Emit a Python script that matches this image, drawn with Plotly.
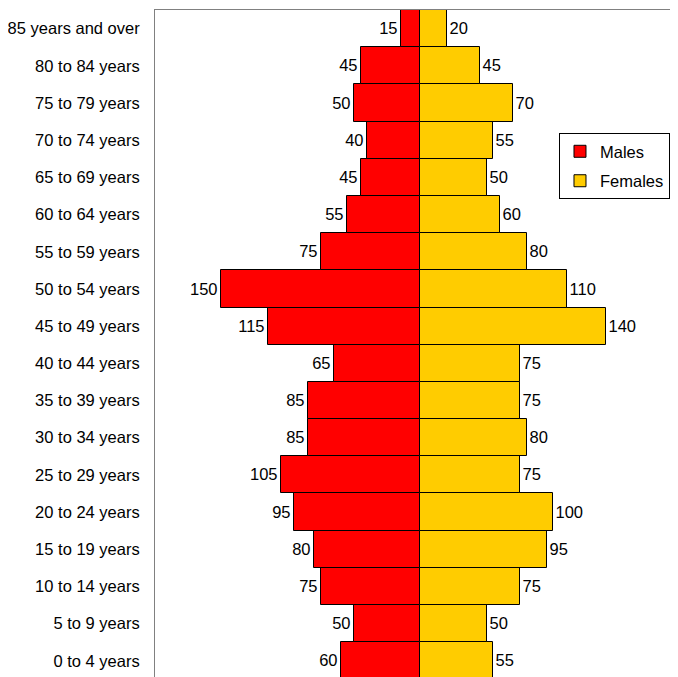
import plotly.graph_objects as go

categories = ["0 to 4 years", "5 to 9 years", "10 to 14 years", "15 to 19 years",
              "20 to 24 years", "25 to 29 years", "30 to 34 years", "35 to 39 years",
              "40 to 44 years", "45 to 49 years", "50 to 54 years", "55 to 59 years",
              "60 to 64 years", "65 to 69 years", "70 to 74 years", "75 to 79 years",
              "80 to 84 years", "85 years and over"]
males = [60, 50, 75, 80, 95, 105, 85, 85, 65, 115, 150, 75, 55, 45, 40, 50, 45, 15]
females = [55, 50, 75, 95, 100, 75, 80, 75, 75, 140, 110, 80, 60, 50, 55, 70, 45, 20]

FONT = "Liberation Sans, Arial, sans-serif"
FS = 16.5
pos = list(range(len(categories)))

fig = go.Figure()
fig.add_trace(go.Bar(
    y=pos, x=[-v for v in males], orientation="h", name="Males",
    marker=dict(color="#FF0000", line=dict(color="#000000", width=1)),
    text=[str(v) for v in males], textposition="outside",
    textfont=dict(family=FONT, size=FS, color="#000000"),
    cliponaxis=False, legendgroup="m", hoverinfo="skip"))
fig.add_trace(go.Bar(
    y=pos, x=females, orientation="h", name="Females",
    marker=dict(color="#FFCC00", line=dict(color="#000000", width=1)),
    text=[str(v) for v in females], textposition="outside",
    textfont=dict(family=FONT, size=FS, color="#000000"),
    cliponaxis=False, legendgroup="f", hoverinfo="skip"))

# page body has an 8px default margin, so the figure is sized/offset to compensate
fig.update_layout(
    width=670, height=669,
    margin=dict(l=147, r=0, t=2, b=0, autoexpand=False),
    paper_bgcolor="white", plot_bgcolor="white",
    barmode="relative", bargap=0,
    font=dict(family=FONT, size=FS, color="#000000"),
    showlegend=True,
    legend=dict(x=0.9847, y=0.8155, xanchor="right", yanchor="top",
                bordercolor="#000000", borderwidth=1, bgcolor="white",
                traceorder="grouped", tracegroupgap=5,
                font=dict(family=FONT, size=FS, color="#000000"),
                itemclick=False),
    xaxis=dict(range=[-200, 194], side="top", showline=True, linecolor="#808080",
               linewidth=1, showticklabels=False, ticks="", showgrid=False,
               zeroline=False, automargin=False),
    yaxis=dict(range=[-0.435, 17.5], tickvals=pos, ticktext=categories,
               showline=True, linecolor="#808080", linewidth=1, ticks="",
               ticklabelstandoff=11, showgrid=False, zeroline=False, automargin=False,
               tickfont=dict(family=FONT, size=FS, color="#000000")),
)

fig.write_html("out.html")
